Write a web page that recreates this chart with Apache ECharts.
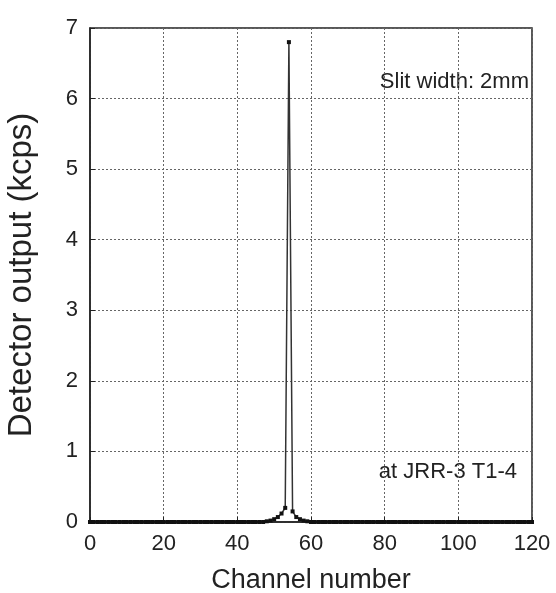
<!DOCTYPE html>
<html><head><meta charset="utf-8">
<script src="https://cdn.jsdelivr.net/npm/echarts@6/dist/echarts.min.js"></script>
<style>html,body{margin:0;padding:0;background:#fff}#c{width:556px;height:593px}</style>
</head><body><div id="c"></div>
<script>
// Channel numbers 0..120
const channels = [
 0,1,2,3,4,5,6,7,8,9,10,11,12,13,14,15,16,17,18,19,
 20,21,22,23,24,25,26,27,28,29,30,31,32,33,34,35,36,37,38,39,
 40,41,42,43,44,45,46,47,48,49,50,51,52,53,54,55,56,57,58,59,
 60,61,62,63,64,65,66,67,68,69,70,71,72,73,74,75,76,77,78,79,
 80,81,82,83,84,85,86,87,88,89,90,91,92,93,94,95,96,97,98,99,
 100,101,102,103,104,105,106,107,108,109,110,111,112,113,114,115,116,117,118,119,120
];
// Detector output (kcps)
const output = [
 0,0,0,0,0,0,0,0,0,0,0,0,0,0,0,0,0,0,0,0,
 0,0,0,0,0,0,0,0,0,0,0,0,0,0,0,0,0,0,0,0,
 0,0,0,0,0,0,0,0,0.01,0.02,0.04,0.07,0.12,0.2,6.8,0.15,0.07,0.04,0.02,0.01,
 0,0,0,0,0,0,0,0,0,0,0,0,0,0,0,0,0,0,0,0,
 0,0,0,0,0,0,0,0,0,0,0,0,0,0,0,0,0,0,0,0,
 0,0,0,0,0,0,0,0,0,0,0,0,0,0,0,0,0,0,0,0,0
];
const xTicks = [0,20,40,60,80,100,120];
const yTicks = [0,1,2,3,4,5,6,7];
const annotations = ["Slit width: 2mm", "at JRR-3 T1-4"];

const font = "Liberation Sans, Arial, sans-serif";
const chart = echarts.init(document.getElementById('c'), null, {renderer:'canvas'});
chart.setOption({
  animation:false,
  backgroundColor:'#fff',
  grid:{left:90,right:24,top:28,bottom:71,outerBoundsMode:'none',containLabel:false,show:true,borderColor:'#222',borderWidth:1.5,backgroundColor:'transparent'},
  xAxis:{
    type:'value',min:xTicks[0],max:xTicks[xTicks.length-1],interval:20,
    name:'Channel number',nameLocation:'middle',nameGap:45,
    nameTextStyle:{fontFamily:font,fontSize:27,color:'#222'},
    axisLine:{show:true,lineStyle:{color:'#222',width:1.5}},
    axisTick:{show:true,inside:true,length:5,lineStyle:{color:'#222'}},
    axisLabel:{fontFamily:font,fontSize:22,color:'#222',margin:11},
    splitLine:{show:true,lineStyle:{color:'#666',type:[2,2],width:1}}
  },
  yAxis:{
    type:'value',min:yTicks[0],max:yTicks[yTicks.length-1],interval:1,
    name:'Detector output (kcps)',nameLocation:'middle',nameGap:52,
    nameTextStyle:{fontFamily:font,fontSize:33,color:'#222'},
    axisLine:{show:true,lineStyle:{color:'#222',width:1.5}},
    axisTick:{show:true,inside:true,length:5,lineStyle:{color:'#222'}},
    axisLabel:{fontFamily:font,fontSize:22,color:'#222',margin:12},
    splitLine:{show:true,lineStyle:{color:'#666',type:[2,2],width:1}}
  },
  series:[{
    type:'line',
    data:channels.map((c,i)=>[c,output[i]]),
    symbol:'rect',symbolSize:4,showSymbol:true,
    itemStyle:{color:'#111'},
    lineStyle:{color:'#333',width:1.5},
    z:5
  }],
  graphic:[
    {type:'text',right:27,top:71,style:{text:annotations[0],font:'22px '+font,fill:'#222'}},
    {type:'text',right:39,top:461,style:{text:annotations[1],font:'22px '+font,fill:'#222'}}
  ]
});
</script></body></html>
